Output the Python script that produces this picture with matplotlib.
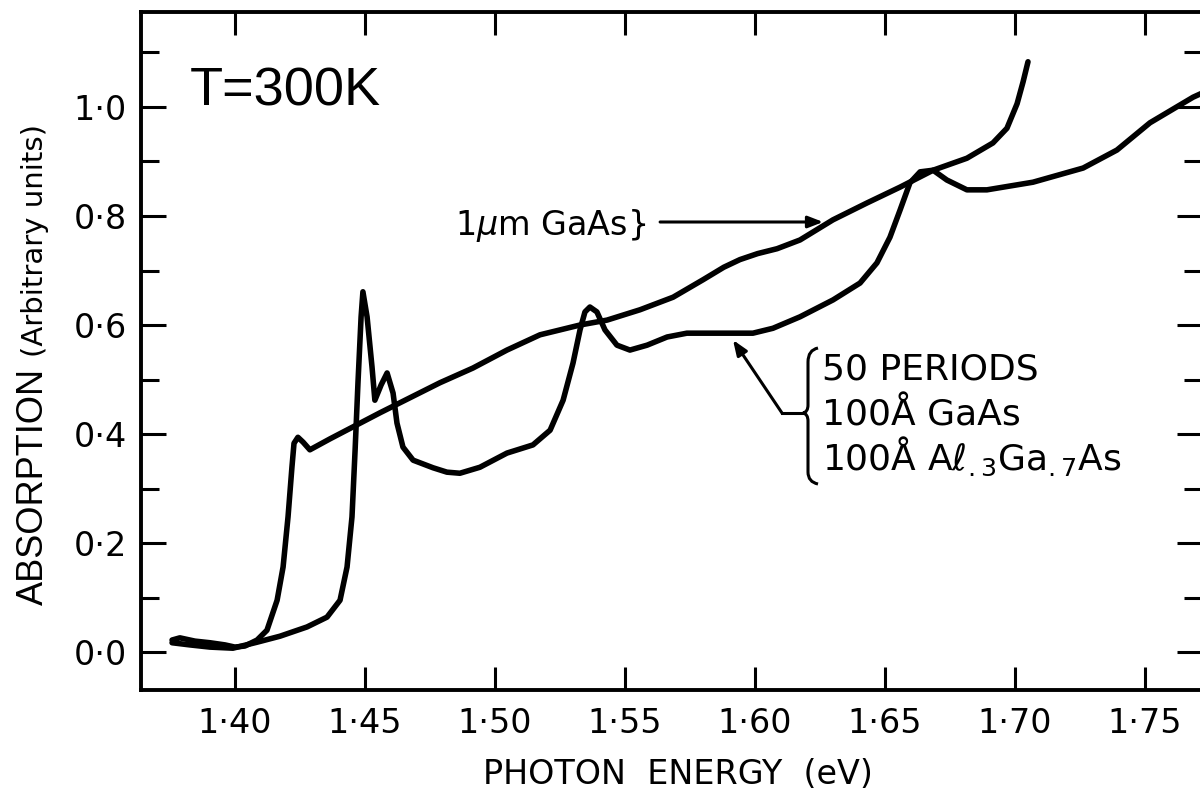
import matplotlib
matplotlib.use("Agg")
import matplotlib.pyplot as plt
from matplotlib.path import Path
from matplotlib.patches import PathPatch

# ---------------- data ----------------
bulk_energy = [1.3758, 1.3788, 1.3846, 1.3904, 1.3962, 1.4000, 1.4038, 1.4085,
               1.4123, 1.4162, 1.4185, 1.4204, 1.4219, 1.4227, 1.4242, 1.4262,
               1.4288, 1.4365, 1.4558, 1.4788, 1.4915, 1.5046, 1.5173, 1.5327,
               1.5431, 1.5558, 1.5685, 1.5800, 1.5880, 1.5942, 1.6010, 1.6085,
               1.6173, 1.6300, 1.6431, 1.6558, 1.6685, 1.6815, 1.6915, 1.6969,
               1.7008, 1.7031, 1.7050]
bulk_abs = [0.022, 0.026, 0.020, 0.017, 0.013, 0.009, 0.011, 0.022,
            0.040, 0.095, 0.156, 0.248, 0.339, 0.383, 0.394, 0.385,
            0.371, 0.391, 0.439, 0.494, 0.521, 0.554, 0.582, 0.600,
            0.609, 0.628, 0.651, 0.683, 0.706, 0.720, 0.731, 0.740,
            0.756, 0.793, 0.824, 0.853, 0.884, 0.906, 0.934, 0.961,
            1.006, 1.046, 1.083]

mqw_energy = [1.3758, 1.3827, 1.3904, 1.3992, 1.4085, 1.4173, 1.4277, 1.4354,
              1.4404, 1.4431, 1.4450, 1.4462, 1.4473, 1.4485, 1.4492, 1.4508,
              1.4527, 1.4538, 1.4562, 1.4585, 1.4608, 1.4623, 1.4646, 1.4685,
              1.4762, 1.4815, 1.4865, 1.4942, 1.5046, 1.5146, 1.5212, 1.5262,
              1.5300, 1.5327, 1.5346, 1.5365, 1.5392, 1.5423, 1.5469, 1.5519,
              1.5585, 1.5662, 1.5738, 1.5865, 1.5992, 1.6069, 1.6173, 1.6300,
              1.6404, 1.6469, 1.6519, 1.6558, 1.6596, 1.6635, 1.6685, 1.6738,
              1.6815, 1.6892, 1.7069, 1.7262, 1.7392, 1.7519, 1.7685, 1.7731]
mqw_abs = [0.017, 0.013, 0.009, 0.007, 0.018, 0.029, 0.046, 0.064,
           0.095, 0.156, 0.248, 0.371, 0.494, 0.615, 0.661, 0.615,
           0.523, 0.462, 0.490, 0.512, 0.475, 0.420, 0.376, 0.352,
           0.338, 0.330, 0.328, 0.339, 0.365, 0.380, 0.407, 0.462,
           0.530, 0.591, 0.624, 0.633, 0.624, 0.591, 0.563, 0.554,
           0.563, 0.578, 0.585, 0.585, 0.585, 0.594, 0.615, 0.646,
           0.677, 0.714, 0.761, 0.811, 0.861, 0.881, 0.884, 0.866,
           0.848, 0.848, 0.862, 0.888, 0.921, 0.971, 1.018, 1.028]

x_ticks = [1.40, 1.45, 1.50, 1.55, 1.60, 1.65, 1.70, 1.75]
x_tick_labels = ["1·40", "1·45", "1·50", "1·55", "1·60", "1·65", "1·70", "1·75"]
y_ticks = [0.0, 0.2, 0.4, 0.6, 0.8, 1.0]
y_tick_labels = ["0·0", "0·2", "0·4", "0·6", "0·8", "1·0"]
y_minor_ticks = [0.1, 0.3, 0.5, 0.7, 0.9, 1.1]

# ---------------- figure ----------------
W, H = 1200, 792
fig = plt.figure(figsize=(W / 100, H / 100), dpi=100)
ax = fig.add_axes([141 / W, (H - 690) / H, (1202 - 141) / W, (690 - 12) / H])

ax.plot(bulk_energy, bulk_abs, color="black", lw=4.0,
        solid_joinstyle="round", solid_capstyle="round")
ax.plot(mqw_energy, mqw_abs, color="black", lw=4.0,
        solid_joinstyle="round", solid_capstyle="round")

ax.set_xlim(1.36385, 1.77192)
ax.set_ylim(-0.0697, 1.1743)

ax.set_xticks(x_ticks)
ax.set_xticklabels(x_tick_labels)
ax.set_yticks(y_ticks)
ax.set_yticklabels(y_tick_labels)
ax.set_yticks(y_minor_ticks, minor=True)

for s in ax.spines.values():
    s.set_linewidth(2.8)

ax.tick_params(which="both", direction="in", top=True, right=True,
               width=2.2, colors="black")
ax.xaxis.set_tick_params(which="major", length=16.5, pad=12)
ax.yaxis.set_tick_params(which="major", length=18, pad=10)
ax.yaxis.set_tick_params(which="minor", length=13)
for lab in ax.get_xticklabels() + ax.get_yticklabels():
    lab.set_fontfamily("DejaVu Sans")
    lab.set_fontsize(24)

# axis labels
fig.text(678 / W, (H - 784) / H, "PHOTON  ENERGY  (eV)", ha="center",
         va="baseline", fontsize=24, family="DejaVu Sans")
fig.text(43 / W, (H - 605) / H, "ABSORPTION", rotation=90,
         rotation_mode="anchor", ha="left", va="baseline",
         fontsize=26, family="Liberation Sans")
fig.text(43 / W, (H - 357) / H, "(Arbitrary units)", rotation=90,
         rotation_mode="anchor", ha="left", va="baseline",
         fontsize=21, family="DejaVu Sans")

# temperature
fig.text(190 / W, (H - 105) / H, "T=300K", ha="left", va="baseline",
         fontsize=39, family="Liberation Sans")

# 1 um GaAs label + arrow
ax.text(1.4846, 0.765, r"1$\mu$m GaAs}", ha="left", va="baseline",
        fontsize=24, family="DejaVu Sans")
ax.annotate("", xy=(1.6262, 0.789), xytext=(1.5635, 0.789),
            arrowprops=dict(arrowstyle="-|>,head_length=0.9,head_width=0.35",
                            color="black", lw=2.2, shrinkA=0, shrinkB=0))

# MQW label
ax.text(1.6258, 0.4991, "50 PERIODS", ha="left", va="baseline",
        fontsize=26, family="DejaVu Sans")
ax.text(1.6258, 0.4165, "100Å GaAs", ha="left", va="baseline",
        fontsize=26, family="DejaVu Sans")
ax.text(1.6258, 0.3339, r"100Å Aℓ$_{.3}$Ga$_{.7}$As", ha="left",
        va="baseline", fontsize=26, family="DejaVu Sans")

# brace (annotation decoration, in pixel-derived data units)
def px(xp, yp):
    return (1.40 + (xp - 235) / 2600.0, (652 - yp) / 545.0)

verts = [px(818, 348), px(808, 350), px(808, 362),
         px(808, 405),
         px(808, 412), px(803, 413),
         px(808, 414), px(808, 421),
         px(808, 472),
         px(808, 482), px(818, 484)]
codes = [Path.MOVETO, Path.CURVE3, Path.CURVE3,
         Path.LINETO,
         Path.CURVE3, Path.CURVE3,
         Path.CURVE3, Path.CURVE3,
         Path.LINETO,
         Path.CURVE3, Path.CURVE3]
ax.add_patch(PathPatch(Path(verts, codes), fill=False, lw=2.2, color="black"))

# MQW arrow
p0, p1, p2 = px(804, 413), px(782, 413), px(733, 340)
ax.plot([p0[0], p1[0]], [p0[1], p1[1]], color="black", lw=2.2)
ax.annotate("", xy=p2, xytext=p1,
            arrowprops=dict(arrowstyle="-|>,head_length=0.9,head_width=0.35",
                            color="black", lw=2.2, shrinkA=0, shrinkB=0))

fig.savefig("out.png", dpi=100)
